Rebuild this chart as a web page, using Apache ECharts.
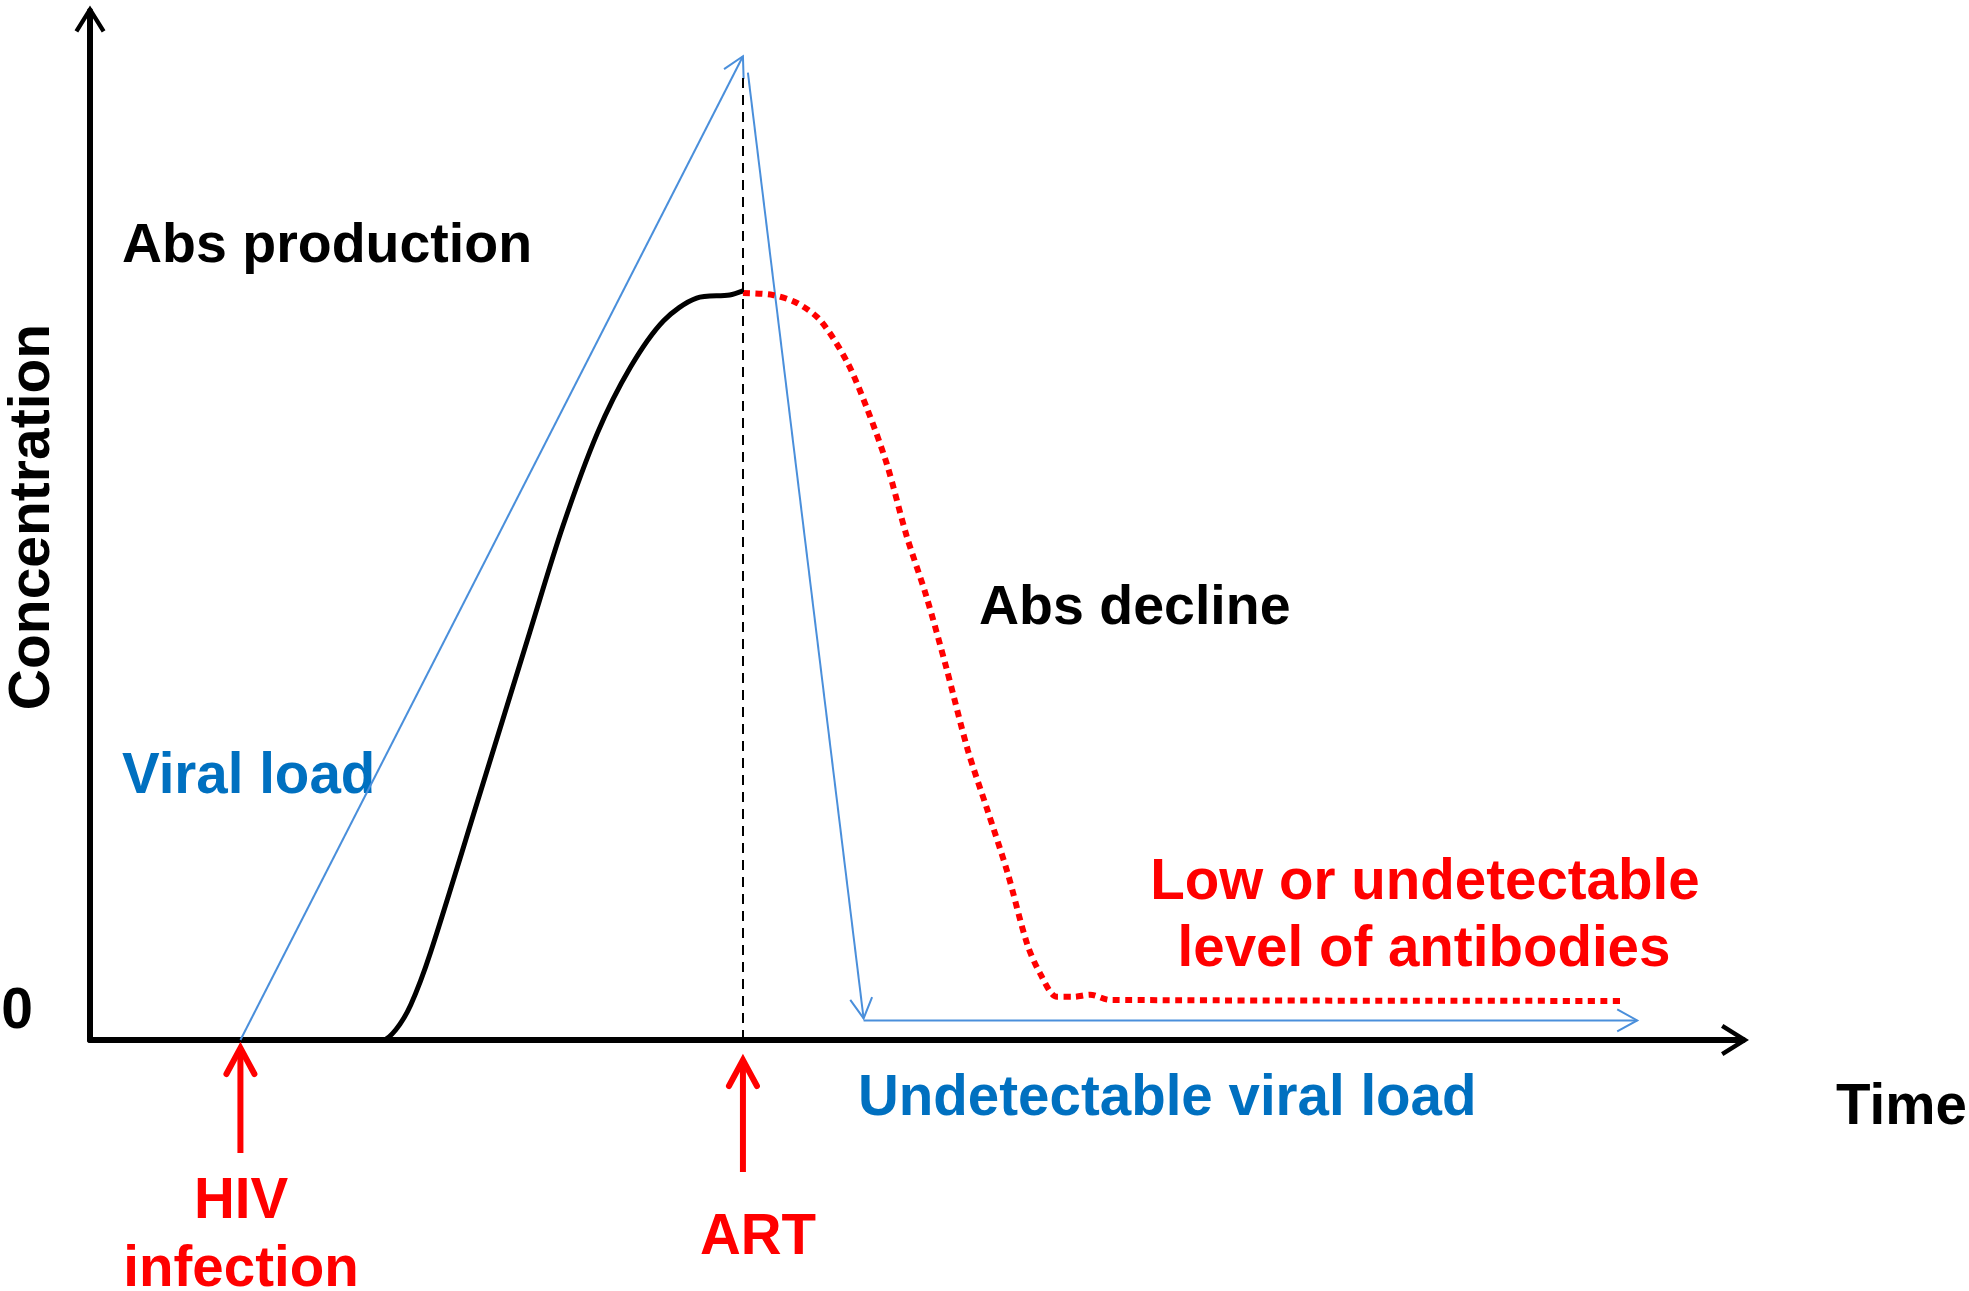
<!DOCTYPE html>
<html>
<head>
<meta charset="utf-8">
<title>Antibody and viral load after HIV infection and ART</title>
<script src="https://cdn.jsdelivr.net/npm/echarts@6/dist/echarts.min.js"></script>
<style>
html, body { margin: 0; padding: 0; background: #fff; }
#chart { width: 1969px; height: 1291px; }
</style>
</head>
<body>
<div id="chart"></div>
<script>
// antibody level while it is produced (black curve)
var absTime  = [15.3, 17.7, 18.5, 19.4, 20.6, 23.6, 26.6, 28.6, 30.7, 32.7, 34.7, 36.7, 38.7, 39.5];
var absLevel = [0, 0, 1.0, 3.4, 8.5, 24.0, 39.6, 49.9, 59.0, 65.4, 69.9, 72.1, 72.4, 72.8];

// antibody level after ART (red dotted curve)
var declineTime  = [39.5, 41.3, 42.8, 44.2, 45.8, 47.0, 48.2, 49.4, 50.6, 51.8, 53.1, 54.3, 55.5, 56.7, 57.5, 58.5, 59.5, 60.5, 61.7, 92.7];
var declineLevel = [72.6, 72.4, 71.6, 69.9, 65.9, 61.4, 56.0, 49.0, 43.1, 36.2, 28.2, 22.3, 16.3, 9.3, 6.4, 4.2, 4.2, 4.4, 3.9, 3.8];

// viral load, three arrows: [t1, c1, t2, c2]
var viralSegments = [
    [9.1, 0, 39.5, 95.6],
    [39.8, 94.0, 46.8, 2.1],
    [46.8, 1.9, 93.6, 1.9]
];

// events on the time axis
var eventTime = [9.1, 39.5];
var artTime = 39.5;
var artLineTop = 94.1;

var RED = '#ff0000';
var BLUE_LINE = '#4a8fdb';
var BLUE_TEXT = '#0070c0';
var FONT = '"Liberation Sans", Arial, Helvetica, sans-serif';

// thick open arrow head, pointing up
var axisArrow = 'path://M50,0 L100,80 L88.1,87.4 L50,26 L11.9,87.4 L0,80 Z';

// arrow under the axis for each event (pixels)
var eventArrowLayout = [
    { gap: 8, len: 113 },
    { gap: 20, len: 132 }
];

function pairs(xs, ys) {
    var out = [];
    for (var i = 0; i < xs.length; i++) out.push([xs[i], ys[i]]);
    return out;
}

function renderViral(params, api) {
    var p1 = api.coord([api.value(0), api.value(1)]);
    var p2 = api.coord([api.value(2), api.value(3)]);
    var dx = p2[0] - p1[0], dy = p2[1] - p1[1];
    var len = Math.sqrt(dx * dx + dy * dy);
    var ux = dx / len, uy = dy / len;
    var back = 20, half = 11;
    return {
        type: 'group',
        children: [
            { type: 'line', shape: { x1: p1[0], y1: p1[1], x2: p2[0], y2: p2[1] },
              style: { stroke: BLUE_LINE, lineWidth: 2 } },
            { type: 'polyline',
              shape: { points: [
                  [p2[0] - back * ux - half * uy, p2[1] - back * uy + half * ux],
                  [p2[0], p2[1]],
                  [p2[0] - back * ux + half * uy, p2[1] - back * uy - half * ux]
              ] },
              style: { stroke: BLUE_LINE, lineWidth: 2, fill: 'none' } }
        ]
    };
}

function renderEvent(params, api) {
    var p = api.coord([api.value(0), 0]);
    var lay = eventArrowLayout[params.dataIndex];
    var tipY = p[1] + lay.gap;
    return {
        type: 'group',
        children: [
            { type: 'line', shape: { x1: p[0], y1: tipY + 4, x2: p[0], y2: p[1] + lay.len },
              style: { stroke: RED, lineWidth: 6 } },
            { type: 'polyline',
              shape: { points: [[p[0] - 14, tipY + 26], [p[0], tipY], [p[0] + 14, tipY + 26]] },
              style: { stroke: RED, lineWidth: 6, fill: 'none', lineCap: 'round', lineJoin: 'miter' } }
        ]
    };
}

function label(text, x, y, color, align, size) {
    return {
        type: 'text', x: x, y: y, silent: true,
        style: {
            text: text, fill: color, align: align || 'left', verticalAlign: 'middle',
            fontFamily: FONT, fontWeight: 'bold', fontSize: size || 56.5
        }
    };
}

var myChart = echarts.init(document.getElementById('chart'));

var option = {
    animation: false,
    backgroundColor: '#fff',
    grid: { left: 90, right: 226, top: 11, bottom: 251, containLabel: false, outerBoundsMode: 'none' },
    xAxis: {
        type: 'value', min: 0, max: 100,
        axisLine: { show: true, symbol: ['none', axisArrow], symbolSize: [32, 28], symbolOffset: [0, -8],
                    lineStyle: { color: '#000', width: 6 } },
        axisTick: { show: false }, axisLabel: { show: false }, splitLine: { show: false }
    },
    yAxis: {
        type: 'value', min: 0, max: 100,
        axisLine: { show: true, symbol: ['none', axisArrow], symbolSize: [31, 27], symbolOffset: [0, -8],
                    lineStyle: { color: '#000', width: 6 } },
        axisTick: { show: false }, axisLabel: { show: false }, splitLine: { show: false }
    },
    series: [
        {
            name: 'Abs production', type: 'line', data: pairs(absTime, absLevel),
            smooth: 0.3, symbol: 'none', silent: true, emphasis: { disabled: true },
            lineStyle: { color: '#000', width: 5 },
            markLine: {
                silent: true, symbol: ['none', 'none'], label: { show: false },
                lineStyle: { color: '#000', width: 2, type: [10, 7] },
                emphasis: { disabled: true },
                data: [[{ coord: [artTime, 0] }, { coord: [artTime, artLineTop] }]]
            }
        },
        {
            name: 'Abs decline', type: 'line', data: pairs(declineTime, declineLevel),
            smooth: 0.3, symbol: 'none', silent: true, emphasis: { disabled: true },
            lineStyle: { color: RED, width: 6, type: [7, 5.5] }
        },
        {
            name: 'Viral load', type: 'custom', renderItem: renderViral, data: viralSegments,
            encode: { x: [0, 2], y: [1, 3] }, clip: false, silent: true
        },
        {
            name: 'Events', type: 'custom', renderItem: renderEvent,
            data: eventTime.map(function (t) { return [t, 0]; }),
            encode: { x: 0, y: 1 }, clip: false, silent: true
        }
    ],
    graphic: [
        label('Abs production', 122, 247, '#000', 'left', 55.5),
        label('Abs decline', 979, 609, '#000', 'left', 55.5),
        label('Viral load', 122, 777, BLUE_TEXT),
        label('Low or undetectable', 1425, 883, RED, 'center'),
        label('level of antibodies', 1424, 950, RED, 'center'),
        label('Undetectable viral load', 858, 1099, BLUE_TEXT),
        label('Time', 1836, 1108, '#000'),
        label('0', 17, 1012, '#000', 'center', 57),
        label('HIV', 241, 1202, RED, 'center'),
        label('infection', 241, 1270, RED, 'center'),
        label('ART', 758, 1238, RED, 'center'),
        {
            type: 'text', x: 33, y: 517, rotation: Math.PI / 2, silent: true,
            style: {
                text: 'Concentration', fill: '#000', align: 'center', verticalAlign: 'middle',
                fontFamily: FONT, fontWeight: 'bold', fontSize: 57
            }
        }
    ]
};

myChart.setOption(option);
</script>
</body>
</html>
